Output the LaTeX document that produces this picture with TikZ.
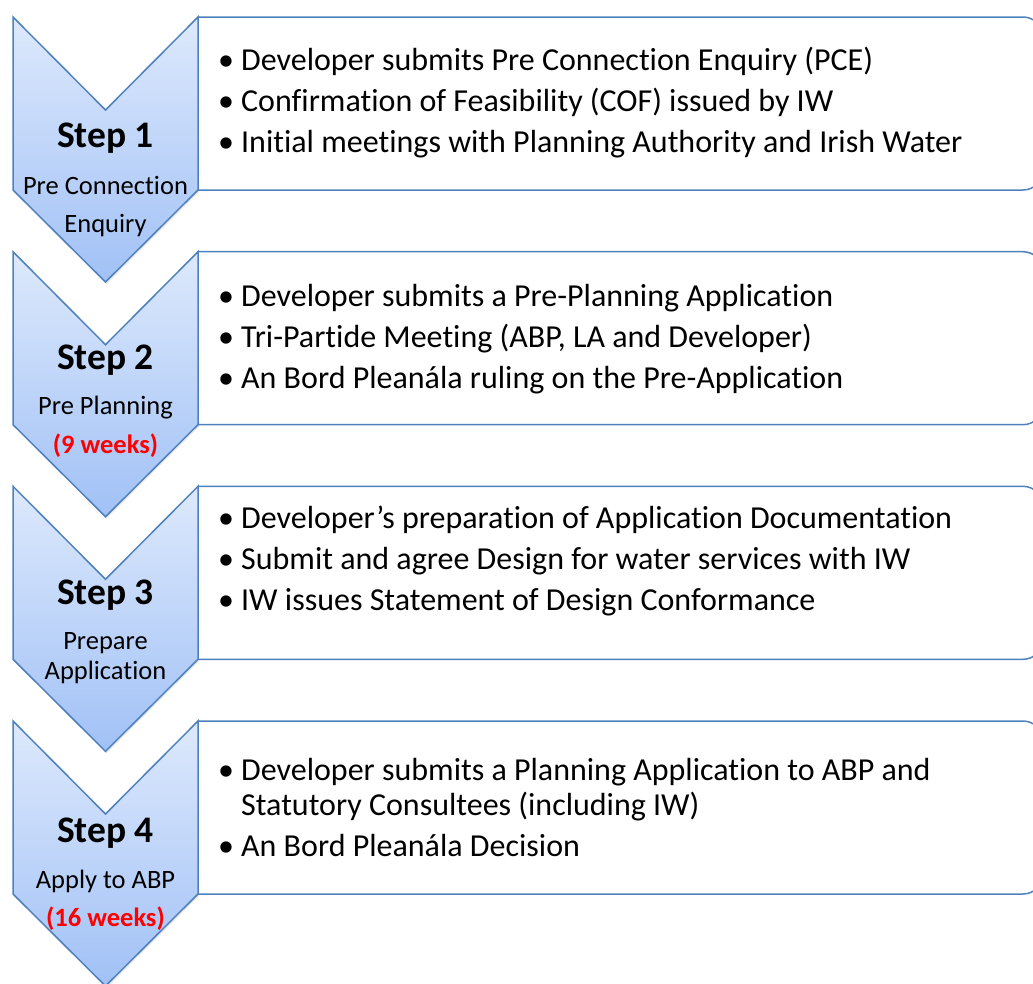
\documentclass[tikz,border=0pt]{standalone}
\usepackage{fontspec}
\setmainfont{Carlito}[Ligatures=NoCommon]
\usetikzlibrary{shadows}
\definecolor{edgeblue}{RGB}{79,129,189}
\definecolor{chevtop}{RGB}{221,233,252}
\definecolor{chevbot}{RGB}{161,193,246}
\definecolor{weekred}{RGB}{255,0,0}
\tikzset{
  chevron/.style={draw=edgeblue, line width=1.5pt, line join=miter, top color=chevtop, bottom color=chevbot,
    drop shadow={opacity=0.18, shadow xshift=1pt, shadow yshift=-2pt}},
  infobox/.style={draw=edgeblue, line width=1.5pt, fill=white, rounded corners=20pt},
  steptitle/.style={font=\fontsize{37.5}{40}\selectfont\bfseries},
  stepsub/.style={font=\fontsize{26.5}{30}\selectfont},
  stepweeks/.style={font=\fontsize{26.5}{30}\selectfont\bfseries, text=weekred},
  points/.style={anchor=west, align=left, font=\fontsize{32}{35}\selectfont, inner sep=0pt}
}
\newcommand{\bul}{\makebox[23pt][l]{\textbullet}}
\begin{document}
\begin{tikzpicture}[x=1pt,y=-1pt]
\useasboundingbox (0,0) rectangle (1033,983);
\clip (0,0) rectangle (1033,983);
% box and chevron of each step
\foreach \n/\y in {1/17,2/251.7,3/486.3,4/721}{
  \coordinate (c\n) at (105.5,\y);
  \draw[infobox] (198,\y) -- (1043,\y) -- (1043,\y+173) -- (198,\y+173);
  \draw[chevron] (13,\y) -- (105.5,\y+93) -- (198,\y) -- (198,\y+173)
    -- (105.5,\y+265) -- (13,\y+173) -- cycle;
}
% step labels
\node[steptitle] (s1) at (105.5,138) {Step 1};
\node[stepsub] (s1a) at (105.5,185) {Pre Connection};
\node[stepsub] (s1b) at (105.5,226) {Enquiry};
\node[steptitle] (s2) at (105.5,360) {Step 2};
\node[stepsub] (s2a) at (105.5,408) {Pre Planning};
\node[stepweeks] (s2b) at (105.5,446) {(9 weeks)};
\node[steptitle] (s3) at (105.5,595) {Step 3};
\node[stepsub] (s3a) at (105.5,643) {Prepare};
\node[stepsub] (s3b) at (105.5,672) {Application};
\node[steptitle] (s4) at (105.5,833) {Step 4};
\node[stepsub] (s4a) at (105.5,881) {Apply to ABP};
\node[stepweeks] (s4b) at (105.5,919) {(16 weeks)};
% bullet points
\node[points] (p1) at (218,103) {\bul Developer submits Pre Connection Enquiry (PCE)\\[6pt]
  \bul Confirmation of Feasibility (COF) issued by IW\\[6pt]
  \bul Initial meetings with Planning Authority and Irish Water};
\node[points] (p2) at (218,339) {\bul Developer submits a Pre-Planning Application\\[6pt]
  \bul Tri-Partide Meeting (ABP, LA and Developer)\\[6pt]
  \bul An Bord Pleanála ruling on the Pre-Application};
\node[points] (p3) at (218,561) {\bul Developer’s preparation of Application Documentation\\[6pt]
  \bul Submit and agree Design for water services with IW\\[6pt]
  \bul IW issues Statement of Design Conformance};
\node[points] (p4) at (218,807) {\bul Developer submits a Planning Application to ABP and\\
  \hspace*{23pt}Statutory Consultees (including IW)\\[6pt]
  \bul An Bord Pleanála Decision};
\end{tikzpicture}
\end{document}
